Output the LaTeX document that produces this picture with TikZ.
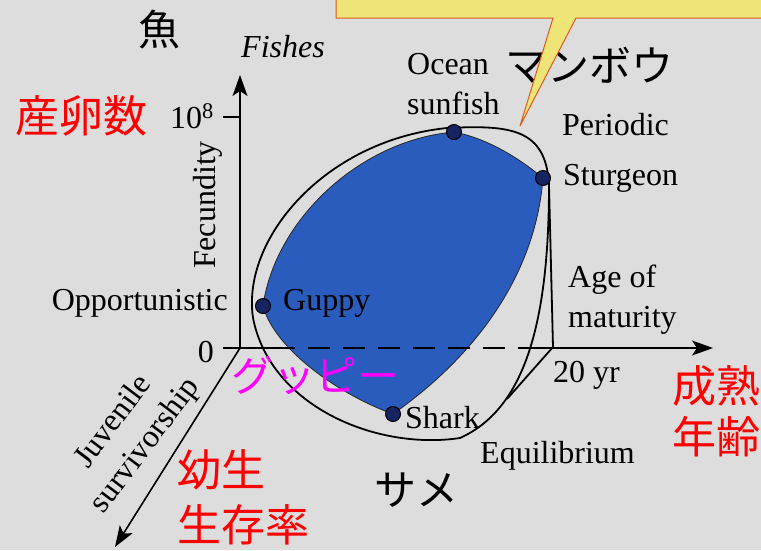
\documentclass[tikz,border=0pt]{standalone}
\usepackage{fontspec}
\setmainfont{Liberation Serif}
\newfontfamily\jpfont{Noto Sans CJK JP}
\usetikzlibrary{arrows.meta}
\definecolor{bg}{RGB}{221,221,221}
\definecolor{fishblue}{RGB}{42,92,190}
\definecolor{dotblue}{RGB}{22,36,98}
\definecolor{callfill}{RGB}{238,228,120}
\definecolor{callline}{RGB}{220,90,30}
\definecolor{jpred}{RGB}{255,0,0}
\definecolor{jpmag}{RGB}{255,0,255}
\begin{document}
\begin{tikzpicture}[x=1pt,y=-1pt,
  en/.style={font=\fontsize{32}{40}\selectfont, inner sep=0pt},
  jp/.style={font=\jpfont\fontsize{44}{55}\selectfont, inner sep=0pt},
  axisline/.style={line width=1.6pt, black},
  arrowline/.style={axisline, -{Stealth[length=21pt,width=15pt,inset=5pt]}},
  curve/.style={line width=1.8pt, black},
  dot/.style={circle, minimum size=15pt, inner sep=0pt, fill=dotblue, draw=black, line width=1pt}]
\useasboundingbox (0,0) rectangle (761,550);
\fill[bg] (0,0) rectangle (761,550);

% key coordinates
\coordinate (O) at (240,348);
\coordinate (ytop) at (240,75);
\coordinate (xend) at (713,348);
\coordinate (zend) at (115,547);
\coordinate (tick0) at (223,348);
\coordinate (tick8) at (223,117);
\coordinate (y8) at (240,117);
\coordinate (solidL) at (273,348);
\coordinate (solidR) at (529,348);
\coordinate (guppy) at (263,306);
\coordinate (sunfish) at (454,132);
\coordinate (sturgeon) at (543,178);
\coordinate (shark) at (393,414);
\coordinate (pTop) at (549,185);
\coordinate (pCorner) at (553,347);
\coordinate (pMeet) at (507,399);

% blue region
\fill[fishblue, draw=black!85, line width=0.8pt]
  (guppy) .. controls (275,220) and (360,140) .. (sunfish)
  .. controls (485,138) and (515,155) .. (sturgeon)
  .. controls (535,280) and (470,360) .. (shark)
  .. controls (340,395) and (275,350) .. (guppy) -- cycle;

% outer envelope
\draw[curve] (252,305) .. controls (250,230) and (330,140) .. (447,128)
  .. controls (510,125) and (546,128) .. (pTop)
  .. controls (549,330) and (522,410) .. (460,438)
  .. controls (380,450) and (280,410) .. (256,330)
  .. controls (253,320) and (252,313) .. (252,305) -- cycle;
\draw[curve] (pTop) -- (pCorner) -- (pMeet);

% axes
\draw[axisline] (tick0) -- (O) -- (solidL);
\draw[axisline, dash pattern=on 22pt off 13pt] (solidL) -- (solidR);
\draw[arrowline] (solidR) -- (xend);
\draw[arrowline] (O) -- (ytop);
\draw[arrowline] (O) -- (zend);
\draw[axisline] (tick8) -- (y8);

% dots
\node[dot] (guppyDot) at (guppy) {};
\node[dot] (sunfishDot) at (sunfish) {};
\node[dot] (sturgeonDot) at (sturgeon) {};
\node[dot] (sharkDot) at (shark) {};

% texts
\node[jp, font=\jpfont\fontsize{42}{50}\selectfont] (sakana) at (159,30) {魚};
\node[en, anchor=base west] (fishes) at (241,57) {\itshape Fishes};
\node[jp, text=jpred] (sanran) at (82,116) {産卵数};
\node[en, anchor=base east] (t108) at (214,128) {10\textsuperscript{8}};
\node[en, rotate=90] (fec) at (208,205) {Fecundity};
\node[en, anchor=base east] (opp) at (228,310) {Opportunistic};
\node[en, anchor=base west] (guppyL) at (283,310) {Guppy};
\node[en, anchor=base east] (zero) at (214,362) {0};
\node[jp, text=jpmag, font=\jpfont\fontsize{42}{50}\selectfont] (guppyJ) at (315,375) {グッピー};
\node[en, rotate=53, align=center] (juv) at (130,434) {Juvenile\\survivorship};
\node[jp, text=jpred, align=left] (yosei) at (243,497) {幼生\\生存率};
\node[en, anchor=base west] (sharkL) at (405,428) {Shark};
\node[jp, font=\jpfont\fontsize{42}{50}\selectfont] (same) at (416,490) {サメ};
\node[en, anchor=base west] (equi) at (480,463) {Equilibrium};
\node[en, anchor=base west] (yr) at (553,382) {20 yr};
\node[jp, text=jpred, align=left, font=\jpfont\fontsize{44}{51}\selectfont] (seijuku) at (716,411) {成熟\\年齢};
\node[en, align=left, anchor=west] (age) at (568,300) {Age of\\maturity};
\node[en, anchor=base west] (peri) at (562,135) {Periodic};
\node[en, anchor=base west] (stur) at (563,185) {Sturgeon};
\node[en, align=left, anchor=west] (ocean) at (407,84) {Ocean\\sunfish};
\node[jp, font=\jpfont\fontsize{42}{50}\selectfont] (manbo) at (589,65) {マンボウ};

% callout
\fill[callfill, draw=callline, line width=1pt] (336,-5) -- (336,18) -- (553,18) -- (520,126) -- (576,18) -- (766,18) -- (766,-5) -- cycle;
\end{tikzpicture}
\end{document}
